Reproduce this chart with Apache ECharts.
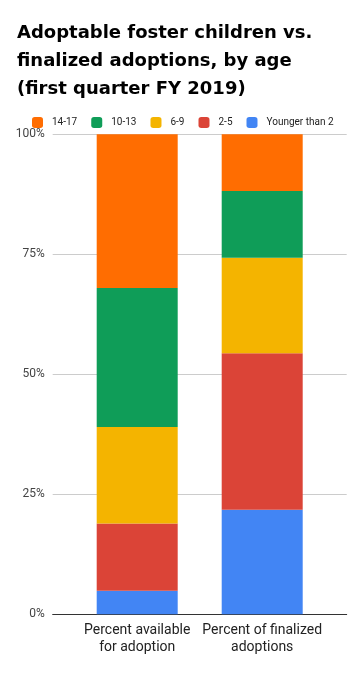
<!DOCTYPE html>
<html><head><meta charset="utf-8">
<script src="https://cdn.jsdelivr.net/npm/echarts@6/dist/echarts.min.js"></script>
<style>html,body{margin:0;padding:0;background:#fff}#c{width:356px;height:678px}</style>
</head><body><div id="c"></div>
<script>
const categories = ['Percent available\nfor adoption', 'Percent of finalized\nadoptions'];
const seriesNames = ['Younger than 2', '2-5', '6-9', '10-13', '14-17'];
const younger2 = [4.9, 21.8];
const age2to5 = [14.0, 32.6];
const age6to9 = [20.1, 19.9];
const age10to13 = [29.0, 13.9];
const age14to17 = [32.0, 11.8];
const yTicks = [0, 25, 50, 75, 100];
const colors = ['#4285f4', '#db4437', '#f4b400', '#0f9d58', '#ff6d01'];
const values = [younger2, age2to5, age6to9, age10to13, age14to17];

const chart = echarts.init(document.getElementById('c'), null, {renderer: 'canvas'});
const gTop = 134.3, gBottom = 678 - 614.3;
chart.setOption({
  animation: false,
  title: {
    text: 'Adoptable foster children vs.\nfinalized adoptions, by age\n(first quarter FY 2019)',
    left: 17, top: 19, padding: 0,
    textStyle: {fontFamily: 'DejaVu Sans', fontWeight: 'bold', fontSize: 18, lineHeight: 28, color: '#000'}
  },
  legend: {
    data: ['14-17', '10-13', '6-9', '2-5', 'Younger than 2'],
    left: 32, top: 117, padding: 0, itemWidth: 11, itemHeight: 11, itemGap: 14,
    icon: 'roundRect',
    textStyle: {fontFamily: 'Roboto', fontSize: 10, color: '#222', padding: [0, 0, 0, 4]}
  },
  grid: [
    {left: 52.7, right: 9.3, top: gTop, bottom: gBottom},
    {left: 74.7, right: 31.3, top: gTop, bottom: gBottom}
  ],
  xAxis: [
    {gridIndex: 0, type: 'value', min: 0, max: 1,
     axisLine: {show: true, onZero: false, lineStyle: {color: '#333', width: 1}},
     axisTick: {show: false}, axisLabel: {show: false}, splitLine: {show: false}},
    {gridIndex: 1, type: 'category', data: categories,
     axisLine: {show: false}, axisTick: {show: false},
     axisLabel: {fontFamily: 'Roboto', fontSize: 14, lineHeight: 17, color: '#222', margin: 8, interval: 0}}
  ],
  yAxis: [
    {gridIndex: 0, type: 'value', min: 0, max: 100, interval: 25,
     axisLine: {show: false}, axisTick: {show: false},
     axisLabel: {formatter: '{value}%', fontFamily: 'Roboto', fontSize: 12, color: '#444', margin: 8},
     splitLine: {lineStyle: {color: '#ccc', width: 1}}},
    {gridIndex: 1, type: 'value', min: 0, max: 100, interval: 25, show: false, splitLine: {show: false}}
  ],
  series: seriesNames.map((n, i) => ({
    name: n, type: 'bar', stack: 'total', xAxisIndex: 1, yAxisIndex: 1,
    barWidth: 81, data: values[i], itemStyle: {color: colors[i]}
  }))
});
</script>
</body></html>
